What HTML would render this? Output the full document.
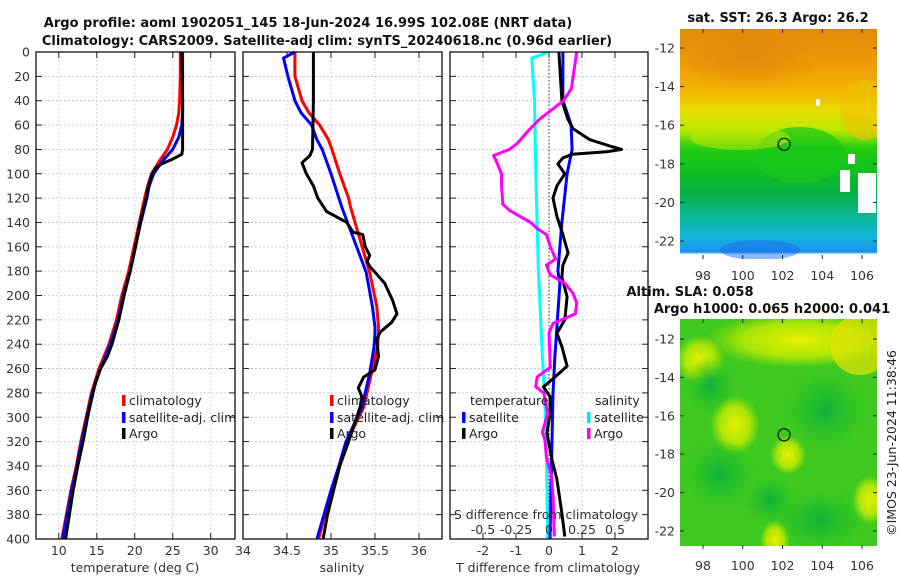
<!DOCTYPE html>
<html><head><meta charset="utf-8">
<style>
html,body{margin:0;padding:0;background:#fff;}
svg{display:block;font-family:"DejaVu Sans","Liberation Sans",sans-serif;}
.tk{font-size:12.5px;fill:#333;}
.ttl{font-size:13px;font-weight:bold;fill:#111;}
.lg{font-size:12.5px;fill:#222;}
</style></head>
<body>
<svg id="fig" width="900" height="580" viewBox="0 0 900 580" xmlns="http://www.w3.org/2000/svg">
<defs>
<linearGradient id="sstGrad" x1="0" y1="0" x2="0" y2="1">
<stop offset="0" stop-color="#e08a08"/><stop offset="0.15" stop-color="#ec9a06"/><stop offset="0.27" stop-color="#f3b400"/>
<stop offset="0.36" stop-color="#e6e000"/><stop offset="0.44" stop-color="#b8e800"/><stop offset="0.52" stop-color="#22cc10"/>
<stop offset="0.62" stop-color="#10c020"/><stop offset="0.72" stop-color="#08b048"/><stop offset="0.82" stop-color="#08b898"/>
<stop offset="0.9" stop-color="#10b8d8"/><stop offset="0.97" stop-color="#1a90f0"/><stop offset="0.98" stop-color="#ffffff"/><stop offset="1" stop-color="#ffffff"/>
</linearGradient>
<radialGradient id="yb"><stop offset="0" stop-color="#e8f000"/><stop offset="0.6" stop-color="#c8ec00" stop-opacity="0.8"/><stop offset="1" stop-color="#b0e800" stop-opacity="0"/></radialGradient>
<radialGradient id="db"><stop offset="0" stop-color="#10b040"/><stop offset="1" stop-color="#18c020" stop-opacity="0"/></radialGradient>
<radialGradient id="ob"><stop offset="0" stop-color="#e07c10" stop-opacity="0.6"/><stop offset="1" stop-color="#e07c10" stop-opacity="0"/></radialGradient>
<clipPath id="clipMap1"><rect x="680" y="29" width="197" height="230"/></clipPath>
<clipPath id="clipMap2"><rect x="680" y="319" width="197" height="230"/></clipPath>
</defs>
<text class="ttl" x="308" y="27" text-anchor="middle">Argo profile: aoml 1902051_145 18-Jun-2024 16.99S 102.08E (NRT data)</text>
<text class="ttl" x="327" y="45" text-anchor="middle">Climatology: CARS2009. Satellite-adj clim: synTS_20240618.nc (0.96d earlier)</text>
<g id="p1"></g>
<g id="p2"></g>
<g id="p3"></g>
<g id="m1">
<text class="ttl" x="778" y="22" text-anchor="middle">sat. SST: 26.3 Argo: 26.2</text>
<g clip-path="url(#clipMap1)">
<rect x="680" y="29" width="197" height="230" fill="url(#sstGrad)"/>
<ellipse cx="800" cy="155" rx="45" ry="28" fill="#18c818" opacity="0.7"/>
<ellipse cx="740" cy="138" rx="50" ry="12" fill="#c8e800" opacity="0.5"/>
<ellipse cx="865" cy="110" rx="25" ry="30" fill="#f0c000" opacity="0.6"/>
<ellipse cx="750" cy="60" rx="70" ry="30" fill="url(#ob)"/>
<rect x="848" y="154" width="7" height="10" fill="#fff"/>
<rect x="840" y="170" width="10" height="22" fill="#fff"/>
<rect x="858" y="173" width="18" height="40" fill="#fff"/>
<rect x="816" y="99" width="4" height="7" fill="#fff"/>
<ellipse cx="760" cy="250" rx="40" ry="10" fill="#1a70f0" opacity="0.5"/>
</g>
</g>
<g id="m2">
<text class="ttl" x="690" y="296" text-anchor="middle">Altim. SLA: 0.058</text>
<text class="ttl" x="772" y="313" text-anchor="middle">Argo h1000: 0.065 h2000: 0.041</text>
<g clip-path="url(#clipMap2)">
<rect x="680" y="319" width="197" height="230" fill="#3ec820"/>
<ellipse cx="800" cy="340" rx="95" ry="28" fill="url(#yb)"/>
<ellipse cx="860" cy="345" rx="30" ry="30" fill="#e4e400" opacity="0.7"/>
<ellipse cx="735" cy="425" rx="25" ry="30" fill="url(#yb)"/>
<ellipse cx="788" cy="455" rx="18" ry="20" fill="url(#yb)"/>
<ellipse cx="775" cy="540" rx="15" ry="20" fill="url(#yb)"/>
<ellipse cx="870" cy="500" rx="18" ry="25" fill="url(#yb)"/>
<ellipse cx="700" cy="360" rx="25" ry="25" fill="url(#yb)"/>
<ellipse cx="710" cy="385" rx="25" ry="30" fill="url(#db)"/>
<ellipse cx="825" cy="410" rx="40" ry="40" fill="url(#db)"/>
<ellipse cx="720" cy="475" rx="35" ry="35" fill="url(#db)"/>
<ellipse cx="820" cy="520" rx="45" ry="30" fill="url(#db)"/>
<ellipse cx="770" cy="500" rx="25" ry="25" fill="url(#db)"/>
<rect x="680" y="546" width="197" height="3" fill="#fff"/>
</g>
</g>
<text x="896" y="443" transform="rotate(-90 896 443)" text-anchor="middle" style="font-size:12.5px;fill:#222">©IMOS 23-Jun-2024 11:38:46</text>
</svg>
<script>
// ---- data ----
const climDepths = [0,20,40,50,60,70,80,90,100,110,120,140,160,180,200,220,240,260,280,300,320,340,360,380,400];
const climTemp   = [26.0,26.0,25.9,25.8,25.5,25.0,24.3,23.2,22.2,21.7,21.3,20.6,19.9,19.2,18.3,17.6,16.6,15.3,14.3,13.6,12.9,12.3,11.6,11.0,10.4];
const satTemp    = [26.3,26.3,26.3,26.3,26.2,25.8,25.0,23.6,22.5,21.9,21.6,20.8,20.1,19.4,18.5,17.8,16.8,15.5,14.4,13.7,13.0,12.4,11.7,11.1,10.5];
const argoTDepths = [0,40,80,84,88,92,95,100,110,120,140,160,180,200,220,240,250,260,270,280,300,310,320,340,360,380,400];
const argoTemp    = [26.2,26.3,26.3,26.2,25.0,23.5,22.8,22.3,21.8,21.5,20.7,20.1,19.4,18.6,17.9,17.0,16.4,15.5,14.9,14.5,13.8,13.5,13.2,12.5,11.9,11.4,10.9];

const salDepths = [0,5,20,40,50,60,72,80,100,120,127,154,181,209,226,231,242,264,292,320,340,360,380,400];
const climSal   = [34.59,34.59,34.59,34.67,34.75,34.87,34.97,35.01,35.10,35.20,35.22,35.33,35.44,35.52,35.54,35.54,35.53,35.46,35.37,35.18,35.10,35.01,34.93,34.86];
const satSal    = [34.59,34.46,34.51,34.59,34.66,34.78,34.84,34.90,35.0,35.09,35.12,35.26,35.40,35.47,35.50,35.50,35.49,35.44,35.35,35.17,35.09,35.0,34.92,34.84];
const argoSDepths = [0,40,80,85,91,100,110,120,131,140,148,150,160,167,172,176,190,204,215,222,230,236,250,261,267,276,283,292,320,340,360,380,400];
const argoSal     = [34.80,34.80,34.79,34.76,34.67,34.72,34.80,34.85,34.95,35.18,35.25,35.36,35.39,35.44,35.41,35.44,35.61,35.70,35.75,35.69,35.56,35.52,35.54,35.50,35.37,35.31,35.35,35.33,35.20,35.10,35.03,34.96,34.91];

const dTDepths = [0,40,50,60,80,100,140,180,190,250,280,320,400];
const satTDiff = [0.42,0.42,0.55,0.67,0.70,0.55,0.39,0.27,0.33,0.18,0.12,0.09,0.03];
const argoDTDepths = [0,40,55,63,72,78,80,82,84,87,92,100,110,120,135,150,165,175,185,201,220,231,242,258,267,275,283,297,313,335,351,379,398];
const argoTDiff    = [0.30,0.39,0.57,0.73,1.24,1.94,2.20,1.75,0.70,0.42,0.27,0.48,0.24,0.12,0.24,0.42,0.58,0.42,0.39,0.55,0.48,0.24,0.39,0.55,0.18,-0.17,0.03,0.03,-0.06,0.09,0.24,0.39,0.48];
const dSDepths = [0,5,40,100,180,250,290,330,400];
const satSDiff = [0,-0.13,-0.11,-0.10,-0.08,-0.05,-0.03,-0.02,-0.01];
const argoDSDepths = [0,30,40,55,65,75,80,85,92,100,110,125,130,140,145,150,160,170,175,183,190,198,206,215,223,231,259,267,275,280,297,312,319,333,349,365,398];
const argoSDiff    = [0.21,0.17,0.11,-0.07,-0.16,-0.24,-0.30,-0.42,-0.39,-0.36,-0.36,-0.35,-0.30,-0.14,-0.09,-0.02,0.01,0.05,-0.02,0.01,0.12,0.18,0.21,0.20,0.03,0.0,0.01,-0.09,-0.10,-0.04,-0.01,-0.05,-0.03,-0.02,0.02,0.03,0.04];

const depthTicks = [0,20,40,60,80,100,120,140,160,180,200,220,240,260,280,300,320,340,360,380,400];
const tempTicks = [10,15,20,25,30];
const salTicks = [34,34.5,35,35.5,36];
const salTickLabels = ["34","34.5","35","35.5","36"];
const dTTicks = [-2,-1,0,1,2];
const dSTicks = [-0.5,-0.25,0,0.25,0.5];
const dSTickLabels = ["-0.5","-0.25","0","0.25","0.5"];
const lonTicks = [98,100,102,104,106];
const latTicks = [-12,-14,-16,-18,-20,-22];
const argoLon = 102.08, argoLat = -16.99;

// ---- scales ----
const Y0 = 52, Y1 = 539;
const yD = d => Y0 + (Y1 - Y0) * d / 400;
const xT = t => 36 + (t - 7) * (199 / 26.2);
const xS = s => 243 + (s - 34) * 88;
const xDT = v => 549 + v * 33;
const xDS = v => 549 + v * 132;
const mapX = lon => 703 + (lon - 98) * 19.875;
const mapY1 = lat => 48 + (-12 - lat) * 19.3;
const mapY2 = lat => 339 + (-12 - lat) * 19.2;

const NS = "http://www.w3.org/2000/svg";
function mk(tag, attrs, parent) {
  const e = document.createElementNS(NS, tag);
  for (const k in attrs) e.setAttribute(k, attrs[k]);
  parent.appendChild(e);
  return e;
}
function line(parent, xs, ds, xf, color, name, w) {
  const pts = xs.map((v, i) => xf(v).toFixed(1) + "," + yD(ds[i]).toFixed(1)).join(" ");
  const p = mk("polyline", {points: pts, fill: "none", stroke: color, "stroke-width": w || 3, "stroke-linejoin": "round"}, parent);
  
  
  return p;
}
function frame(g, x0, x1, xticks, xf, labels, labelY, showY) {
  depthTicks.forEach(d => {
    const y = yD(d);
    if (d > 0 && d < 400) mk("line", {x1: x0, x2: x1, y1: y, y2: y, stroke: "#b8bce8", "stroke-width": 0.8, "stroke-dasharray": "2,2"}, g);
    mk("line", {x1: x0, x2: x0 + 6, y1: y, y2: y, stroke: "#222", "stroke-width": 1}, g);
    mk("line", {x1: x1 - 6, x2: x1, y1: y, y2: y, stroke: "#222", "stroke-width": 1}, g);
    if (showY) {
      const t = mk("text", {x: 30, y: y + 4.5, "text-anchor": "end", class: "tk"}, g);
      t.textContent = d;
      
      
    }
  });
  xticks.forEach((v, i) => {
    const x = xf(v);
    if (x > x0 + 1 && x < x1 - 1) mk("line", {x1: x, x2: x, y1: Y0, y2: Y1, stroke: "#d8c0d8", "stroke-width": 0.8, "stroke-dasharray": "2,2"}, g);
    mk("line", {x1: x, x2: x, y1: Y1 - 6, y2: Y1, stroke: "#222", "stroke-width": 1}, g);
    mk("line", {x1: x, x2: x, y1: Y0, y2: Y0 + 6, stroke: "#222", "stroke-width": 1}, g);
    const t = mk("text", {x: x, y: labelY, "text-anchor": "middle", class: "tk"}, g);
    t.textContent = labels ? labels[i] : v;
    
    
  });
}
function border(g, x0, x1, name) {
  const r = mk("rect", {x: x0, y: Y0, width: x1 - x0, height: Y1 - Y0, fill: "none", stroke: "#111", "stroke-width": 1.3}, g);
  
  
}
function text(g, x, y, s, name, anchor, cls) {
  const t = mk("text", {x: x, y: y, "text-anchor": anchor || "start", class: cls || "lg"}, g);
  t.textContent = s;
  
  
  return t;
}
function legendEntry(g, x, y, color, label, name) {
  const m = mk("rect", {x: x, y: y - 10, width: 3.5, height: 11, fill: color}, g);
  
  
  text(g, x + 7, y, label, name);
}

// Panel 1
const p1 = document.getElementById("p1");
frame(p1, 36, 235, tempTicks, xT, null, 555, true);
line(p1, climTemp, climDepths, xT, "#ff0000", "climatology-temp-line");
line(p1, satTemp, climDepths, xT, "#0000ff", "satellite-temp-line");
line(p1, argoTemp, argoTDepths, xT, "#000000", "argo-temp-line");
border(p1, 36, 235, "temperature-axes");
legendEntry(p1, 122, 405, "#ff0000", "climatology", "legend-climatology");
legendEntry(p1, 122, 422, "#0000ff", "satellite-adj. clim", "legend-satellite");
legendEntry(p1, 122, 438, "#000000", "Argo", "legend-argo");
text(p1, 135, 572, "temperature (deg C)", "temperature-axis-title", "middle", "tk");

// Panel 2
const p2 = document.getElementById("p2");
frame(p2, 243, 442, salTicks, xS, salTickLabels, 555, false);
line(p2, climSal, salDepths, xS, "#ff0000", "climatology-salinity-line");
line(p2, satSal, salDepths, xS, "#0000ff", "satellite-salinity-line");
line(p2, argoSal, argoSDepths, xS, "#000000", "argo-salinity-line");
border(p2, 243, 442, "salinity-axes");
legendEntry(p2, 330, 405, "#ff0000", "climatology", "legend-climatology-s");
legendEntry(p2, 330, 422, "#0000ff", "satellite-adj. clim", "legend-satellite-s");
legendEntry(p2, 330, 438, "#000000", "Argo", "legend-argo-s");
text(p2, 342, 572, "salinity", "salinity-axis-title", "middle", "tk");

// Panel 3
const p3 = document.getElementById("p3");
frame(p3, 450, 648, dTTicks, xDT, null, 555, false);
const zl = mk("line", {x1: xDT(0), x2: xDT(0), y1: Y0, y2: Y1, stroke: "#333", "stroke-width": 1, "stroke-dasharray": "1.5,2"}, p3);


line(p3, satSDiff, dSDepths, xDS, "#00ffff", "satellite-salinity-diff-line");
line(p3, satTDiff, dTDepths, xDT, "#0000ff", "satellite-temp-diff-line");
line(p3, argoTDiff, argoDTDepths, xDT, "#000000", "argo-temp-diff-line");
line(p3, argoSDiff, argoDSDepths, xDS, "#ff00ff", "argo-salinity-diff-line");
border(p3, 450, 648, "difference-axes");
text(p3, 470, 405, "temperature", "legend-temperature-heading");
legendEntry(p3, 462, 422, "#0000ff", "satellite", "legend-temp-satellite");
legendEntry(p3, 462, 438, "#000000", "Argo", "legend-temp-argo");
text(p3, 595, 405, "salinity", "legend-salinity-heading");
legendEntry(p3, 587, 422, "#00e8e8", "satellite", "legend-sal-satellite");
legendEntry(p3, 587, 438, "#ff00ff", "Argo", "legend-sal-argo");
text(p3, 546, 519, "S difference from climatology", "s-diff-axis-title", "middle", "tk");
dSTicks.forEach((v, i) => {
  text(p3, xDS(v), 534, dSTickLabels[i], "s-diff-tick-label", "middle", "tk");
});
text(p3, 548, 572, "T difference from climatology", "t-diff-axis-title", "middle", "tk");

// Maps
function mapAxes(g, yTop, yBot, yf, labelY, name) {
  latTicks.forEach(la => {
    const y = yf(la);
    mk("line", {x1: 680, x2: 684, y1: y, y2: y, stroke: "#222"}, g);
    mk("line", {x1: 873, x2: 877, y1: y, y2: y, stroke: "#222"}, g);
    text(g, 675, y + 4.5, la, "lat-tick-label", "end", "tk");
  });
  lonTicks.forEach(lo => {
    const x = mapX(lo);
    mk("line", {x1: x, x2: x, y1: yBot - 4, y2: yBot, stroke: "#222"}, g);
    mk("line", {x1: x, x2: x, y1: yTop, y2: yTop + 4, stroke: "#222"}, g);
    text(g, x, labelY, lo, "lon-tick-label", "middle", "tk");
  });
  const c = mk("circle", {cx: mapX(argoLon), cy: yf(argoLat), r: 6, fill: "none", stroke: "#111", "stroke-width": 1.2}, g);
  
  
}
mapAxes(document.getElementById("m1"), 29, 259, mapY1, 280, "sst");
mapAxes(document.getElementById("m2"), 319, 549, mapY2, 570, "sla");
</script>
</body></html>
